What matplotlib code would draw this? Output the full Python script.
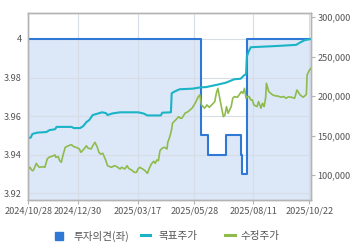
import matplotlib
matplotlib.use('Agg')
import matplotlib.pyplot as plt
import matplotlib.dates as mdates
from matplotlib.lines import Line2D
from matplotlib.ticker import FixedLocator, FuncFormatter
import pandas as pd

plt.rcParams['font.family'] = ['Noto Sans CJK KR', 'DejaVu Sans']

# 투자의견 (left axis), step series
opinion_dates = ['2024-10-28', '2025-06-05', '2025-06-15', '2025-07-07',
                 '2025-07-26', '2025-07-28', '2025-08-03', '2025-10-24']
opinion_values = [4, 3.95, 3.94, 3.95, 3.94, 3.93, 4, 4]

# 목표주가 (right axis)
target_dates = ['2024-10-28', '2024-10-31', '2024-11-02', '2024-11-08', '2024-11-20',
                '2024-11-24', '2024-12-01', '2024-12-03', '2024-12-22', '2024-12-25',
                '2025-01-02', '2025-01-06', '2025-01-10', '2025-01-14', '2025-01-18',
                '2025-01-25', '2025-01-30', '2025-02-04', '2025-02-06', '2025-02-12',
                '2025-02-22', '2025-03-17', '2025-03-24', '2025-03-29', '2025-04-15',
                '2025-04-17', '2025-04-28', '2025-04-29', '2025-05-02', '2025-05-09',
                '2025-05-26', '2025-06-04', '2025-06-12', '2025-06-25', '2025-07-07',
                '2025-07-18', '2025-07-26', '2025-07-31', '2025-08-02', '2025-08-03',
                '2025-08-05', '2025-08-08', '2025-09-09', '2025-10-05', '2025-10-10',
                '2025-10-16', '2025-10-24']
target_prices = [147000, 147500, 152000, 153700, 154500,
                 157000, 158000, 161000, 161000, 159500,
                 159500, 162000, 167000, 170000, 176000,
                 178000, 179500, 178500, 176000, 178000,
                 179500, 179500, 178000, 175500, 175500,
                 179000, 179500, 203600, 205500, 208700,
                 209500, 211000, 211500, 214200, 217000,
                 221400, 222000, 226800, 227500, 250000,
                 256000, 262000, 263500, 265000, 268000,
                 271000, 272500]

# 수정주가 (right axis)
price_dates = ['2024-10-28', '2024-10-30', '2024-11-01', '2024-11-03', '2024-11-05',
               '2024-11-07', '2024-11-09', '2024-11-11', '2024-11-15', '2024-11-18',
               '2024-11-21', '2024-11-23', '2024-11-27', '2024-12-01', '2024-12-02',
               '2024-12-05', '2024-12-07', '2024-12-09', '2024-12-11', '2024-12-14',
               '2024-12-18', '2024-12-22', '2024-12-25', '2024-12-28', '2025-01-01',
               '2025-01-03', '2025-01-07', '2025-01-10', '2025-01-12', '2025-01-16',
               '2025-01-19', '2025-01-21', '2025-01-24', '2025-01-26', '2025-01-28',
               '2025-01-31', '2025-02-04', '2025-02-06', '2025-02-11', '2025-02-15',
               '2025-02-18', '2025-02-22', '2025-02-24', '2025-02-28', '2025-03-03',
               '2025-03-05', '2025-03-10', '2025-03-12', '2025-03-15', '2025-03-17',
               '2025-03-19', '2025-03-23', '2025-03-26', '2025-03-29', '2025-03-31',
               '2025-04-03', '2025-04-06', '2025-04-08', '2025-04-10', '2025-04-12',
               '2025-04-14', '2025-04-17', '2025-04-20', '2025-04-23', '2025-04-24',
               '2025-04-27', '2025-04-29', '2025-04-30', '2025-05-04', '2025-05-08',
               '2025-05-10', '2025-05-12', '2025-05-16', '2025-05-20', '2025-05-25',
               '2025-05-29', '2025-06-02', '2025-06-04', '2025-06-06', '2025-06-08',
               '2025-06-10', '2025-06-13', '2025-06-16', '2025-06-19', '2025-06-21',
               '2025-06-23', '2025-06-25', '2025-06-27', '2025-06-29', '2025-07-01',
               '2025-07-04', '2025-07-06', '2025-07-08', '2025-07-10', '2025-07-12',
               '2025-07-14', '2025-07-16', '2025-07-18', '2025-07-22', '2025-07-24',
               '2025-07-27', '2025-07-29', '2025-07-31', '2025-08-02', '2025-08-04',
               '2025-08-06', '2025-08-08', '2025-08-10', '2025-08-12', '2025-08-16',
               '2025-08-18', '2025-08-21', '2025-08-23', '2025-08-25', '2025-08-27',
               '2025-08-28', '2025-08-31', '2025-09-05', '2025-09-09', '2025-09-11',
               '2025-09-16', '2025-09-19', '2025-09-22', '2025-09-25', '2025-09-29',
               '2025-10-03', '2025-10-06', '2025-10-10', '2025-10-14', '2025-10-18',
               '2025-10-19', '2025-10-22', '2025-10-24']
adj_prices = [107600, 109800, 106300, 105400, 109800,
              114800, 111800, 109800, 110500, 109800,
              120300, 122400, 123700, 125400, 122400,
              123200, 118100, 116100, 124500, 135100,
              137100, 138400, 135900, 135100, 133000,
              128800, 133000, 137100, 134200, 133000,
              138400, 141500, 135100, 128800, 126600,
              127500, 118100, 111800, 109800, 111800,
              110500, 107600, 109800, 107600, 111800,
              108500, 105400, 103400, 103400, 107600,
              109800, 107600, 105400, 102100, 107600,
              113900, 117400, 114800, 119000, 118100,
              130800, 134200, 135100, 133000, 141500,
              149900, 158400, 165600, 169800, 174000,
              172000, 172000, 178300, 180400, 184700,
              191000, 199400, 201500, 188800, 186700,
              184700, 188800, 185900, 188800, 191000,
              193000, 203600, 209900, 199400, 188800,
              174000, 176100, 186700, 178300, 182500,
              186700, 197300, 199400, 198600, 201500,
              205700, 203600, 209900, 197300, 199400,
              199400, 195200, 195200, 188800, 186700,
              193000, 184700, 191000, 186700, 197700,
              216300, 205700, 201500, 200200, 200200,
              198600, 199600, 197300, 199000, 198600,
              197300, 207800, 201500, 198600, 202100,
              226800, 233200, 235300]

tick_dates = ['2024-10-28', '2024-12-30', '2025-03-17', '2025-05-28', '2025-08-11', '2025-10-22']
tick_labels = ['2024/10/28', '2024/12/30', '2025/03/17', '2025/05/28', '2025/08/11', '2025/10/22']
left_ticks = [3.92, 3.94, 3.96, 3.98, 4]
right_ticks = [100000, 150000, 200000, 250000, 300000]

BLUE = '#2f78d6'
FILL = '#dce8f8'
CYAN = '#1bb3c6'
GREEN = '#8fbb4c'
TEXT = '#555555'
EDGE = '#b4b4b4'
GRID = '#d6dde6'

fig = plt.figure(figsize=(3.6, 2.48), dpi=100)
ax = fig.add_axes([0.079, 0.1935, 0.785, 0.756])
ax2 = ax.twinx()

od = pd.to_datetime(opinion_dates)
ax.fill_between(od, opinion_values, 3.9, step='post', color=FILL, lw=0, zorder=1)
ax.step(od, opinion_values, where='post', color=BLUE, lw=1.5, zorder=3)
ax.set_ylim(3.9165, 4.0137)
ax.set_xlim(pd.Timestamp('2024-10-28'), pd.Timestamp('2025-10-24'))
ax.set_axisbelow(False)
ax.grid(True, color=GRID, lw=0.8, zorder=2)

ax2.plot(pd.to_datetime(target_dates), target_prices, color=CYAN, lw=1.5)
ax2.plot(pd.to_datetime(price_dates), adj_prices, color=GREEN, lw=1.2)
ax2.set_ylim(68300, 306000)

ax.xaxis.set_major_locator(FixedLocator(mdates.date2num(pd.to_datetime(tick_dates))))
ax.set_xticklabels(tick_labels)
ax.set_yticks(left_ticks)
ax.yaxis.set_major_formatter(FuncFormatter(lambda v, p: f'{v:g}'))
ax2.set_yticks(right_ticks)
ax2.yaxis.set_major_formatter(FuncFormatter(lambda v, p: f'{int(v):,}'))

ax.tick_params(axis='x', length=3, color=EDGE, labelsize=6.6, labelcolor=TEXT, pad=2)
ax.tick_params(axis='y', length=0, labelsize=6.6, labelcolor=TEXT, pad=5)
ax2.tick_params(axis='y', length=3, color=EDGE, labelsize=6.6, labelcolor=TEXT, pad=1.5)
for a in (ax, ax2):
    for s in a.spines.values():
        s.set_color(EDGE)
        s.set_linewidth(1.0)

# legend, one entry each so spacing follows the original
legend_items = [
    (Line2D([], [], marker='s', ls='', color=BLUE, markersize=6.3), '투자의견(좌)', 0.152, 0.9),
    (Line2D([], [], color=CYAN, lw=2.2), '목표주가', 0.391, 0.75),
    (Line2D([], [], color=GREEN, lw=2.2), '수정주가', 0.625, 0.6),
]
for handle, label, xpos, pad in legend_items:
    fig.legend([handle], [label], loc='center left', bbox_to_anchor=(xpos, 0.048),
               frameon=False, fontsize=7.6, labelcolor=TEXT, handlelength=0.9,
               handletextpad=pad, borderpad=0, borderaxespad=0)

fig.savefig('out.png', dpi=100, facecolor='white')
